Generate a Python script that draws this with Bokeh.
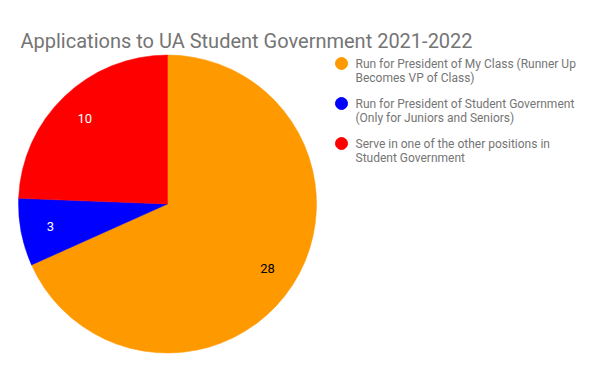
import numpy as np
from bokeh.plotting import figure
from bokeh.models import Range1d, ColumnDataSource
from bokeh.core.properties import value
from bokeh.embed import file_html
from bokeh.resources import INLINE

title = "Applications to UA Student Government 2021-2022"
categories = [
    "Run for President of My Class (Runner Up\nBecomes VP of Class)",
    "Run for President of Student Government\n(Only for Juniors and Seniors)",
    "Serve in one of the other positions in\nStudent Government",
]
counts = [28, 3, 10]
colors = ["#FF9900", "#0000FF", "#FF0000"]
label_colors = ["#000000", "#FFFFFF", "#FFFFFF"]

W, H = 584, 355
p = figure(width=W, height=H, output_backend="svg", toolbar_location=None,
           x_range=Range1d(0, W), y_range=Range1d(H, 0), min_border=0)
p.axis.visible = False
p.grid.visible = False
p.outline_line_color = None
p.background_fill_color = "white"

cx, cy, r = 167, 203.5, 149
vals = np.array(counts, dtype=float)
fr = vals / vals.sum()
cum = np.concatenate([[0], np.cumsum(fr)])
start_t = cum[:-1] * 2 * np.pi
end_t = cum[1:] * 2 * np.pi
src = ColumnDataSource(dict(
    start=np.pi / 2 - start_t,
    end=np.pi / 2 - end_t,
    color=colors,
))
p.wedge(x=cx, y=cy, radius=r, start_angle="start", end_angle="end",
        direction="clock", fill_color="color", line_color="color",
        line_width=0.5, source=src)

mid = (start_t + end_t) / 2
lf = 0.8
lx = cx + r * lf * np.sin(mid)
ly = cy - r * lf * np.cos(mid)
p.text(x=lx, y=ly, text=[str(c) for c in counts], text_color=label_colors,
       text_font=value("Roboto"), text_font_size="13px",
       text_align="center", text_baseline="middle")

p.text(x=[20], y=[40], text=[title], text_font=value("Roboto"),
       text_font_size="20px", text_color="#757575",
       text_baseline="alphabetic", text_align="left")

ly0 = np.array([63, 103, 143])
p.scatter(x=[341] * 3, y=ly0, size=12, marker="circle", fill_color=colors,
          line_color=colors)
first = [c.split("\n")[0] for c in categories]
second = [c.split("\n")[1] for c in categories]
p.text(x=[355] * 3, y=ly0, text=first, text_font=value("Roboto"),
       text_font_size="12px", text_color="#757575", text_baseline="middle")
p.text(x=[355] * 3, y=ly0 + 14, text=second, text_font=value("Roboto"),
       text_font_size="12px", text_color="#757575", text_baseline="middle")

open("out.html", "w").write(file_html(p, INLINE))
